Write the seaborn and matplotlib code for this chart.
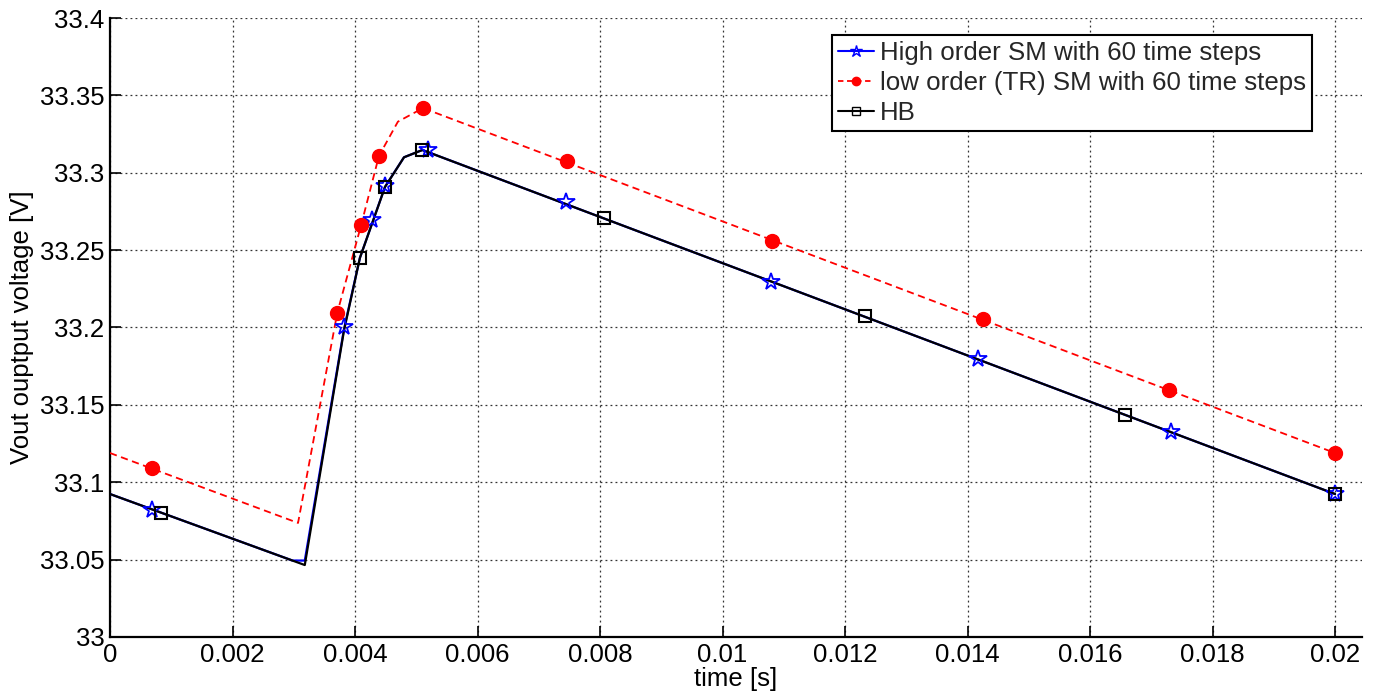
import numpy as np
import pandas as pd
import matplotlib
matplotlib.use("Agg")
import matplotlib.pyplot as plt
from matplotlib.lines import Line2D
import seaborn as sns

# ---- data ----
# line vertices
hi_t = [0.0, 0.00298, 0.00318, 0.00382, 0.00408, 0.00449, 0.00480, 0.00510, 0.02]
hi_v = [33.0924, 33.0494, 33.0494, 33.1990, 33.2450, 33.2910, 33.3100, 33.3147, 33.0924]
lo_t = [0.0, 0.00307, 0.00371, 0.00410, 0.00439, 0.00470, 0.00511, 0.02]
lo_v = [33.1189, 33.0737, 33.2094, 33.2662, 33.3108, 33.3330, 33.3418, 33.1189]
hb_t = [0.0, 0.00318, 0.00382, 0.00408, 0.00449, 0.00480, 0.00510, 0.02]
hb_v = [33.0924, 33.0465, 33.1980, 33.2450, 33.2908, 33.3100, 33.3147, 33.0924]

# marker positions
hi_mt = [0.00069, 0.00382, 0.00428, 0.00449, 0.00519, 0.00745, 0.01079, 0.01417, 0.01732, 0.02]
hi_mv = [33.0821, 33.2003, 33.2695, 33.2915, 33.3147, 33.2811, 33.2294, 33.1796, 33.1325, 33.0924]
lo_mt = [0.00069, 0.00371, 0.00410, 0.00439, 0.00511, 0.00746, 0.01081, 0.01425, 0.01729, 0.02]
lo_mv = [33.1092, 33.2094, 33.2662, 33.3108, 33.3418, 33.3076, 33.2559, 33.2055, 33.1596, 33.1189]
hb_mt = [0.00083, 0.00408, 0.00449, 0.00510, 0.00807, 0.01233, 0.01657, 0.02]
hb_mv = [33.0801, 33.2450, 33.2908, 33.3147, 33.2708, 33.2074, 33.1435, 33.0924]

labels = ["High order SM with 60 time steps",
          "low order (TR) SM with 60 time steps",
          "HB"]
xticks = [0, 0.002, 0.004, 0.006, 0.008, 0.01, 0.012, 0.014, 0.016, 0.018, 0.02]
xtick_labels = ["0", "0.002", "0.004", "0.006", "0.008", "0.01", "0.012",
                "0.014", "0.016", "0.018", "0.02"]
yticks = [33, 33.05, 33.1, 33.15, 33.2, 33.25, 33.3, 33.35, 33.4]
ytick_labels = ["33", "33.05", "33.1", "33.15", "33.2", "33.25", "33.3", "33.35", "33.4"]

sns.set_theme(style="white")
plt.rcParams['font.family'] = ['Liberation Sans', 'DejaVu Sans']

fig = plt.figure(figsize=(13.79, 6.98), dpi=100)
ax = fig.add_axes([110/1379, 1-637/698, (1362-110)/1379, (637-18)/698])

df_hi = pd.DataFrame({"t": hi_t, "v": hi_v})
df_lo = pd.DataFrame({"t": lo_t, "v": lo_v})
df_hb = pd.DataFrame({"t": hb_t, "v": hb_v})

sns.lineplot(data=df_hi, x="t", y="v", ax=ax, color="#0000ff", lw=1.6,
             sort=False, estimator=None, zorder=3)
sns.lineplot(data=df_lo, x="t", y="v", ax=ax, color="#ff0000", lw=1.3,
             sort=False, estimator=None, zorder=3, linestyle=(0, (4, 2.5)))
sns.lineplot(data=df_hb, x="t", y="v", ax=ax, color="black", lw=1.6,
             sort=False, estimator=None, zorder=4)

ax.plot(hi_mt, hi_mv, linestyle="none", marker="*", ms=13, mfc="none",
        mec="#0000ff", mew=1.3, zorder=5)
ax.plot(lo_mt, lo_mv, linestyle="none", marker="o", ms=10, mfc="#ff0000",
        mec="#ff0000", zorder=5)
ax.plot(hb_mt, hb_mv, linestyle="none", marker="s", ms=9, mfc="none",
        mec="black", mew=1.5, zorder=6)

ax.set_xlim(0, 0.02044)
ax.set_ylim(33, 33.4)
ax.set_xticks(xticks)
ax.set_xticklabels(xtick_labels)
ax.set_yticks(yticks)
ax.set_yticklabels(ytick_labels)
ax.tick_params(axis="both", direction="in", length=8, width=1.2, labelsize=18.5,
               color="black", labelcolor="black", bottom=True, left=True,
               top=False, right=False, pad=4)
ax.grid(True, linestyle=(0, (1.5, 2.5)), color="black", lw=0.9, alpha=0.8)
for s in ["top", "right"]:
    ax.spines[s].set_visible(False)
for s in ["left", "bottom"]:
    ax.spines[s].set_color("black")
    ax.spines[s].set_linewidth(1.6)

ax.set_xlabel("time [s]", fontsize=18.5, color="black", labelpad=0)
ax.set_ylabel("Vout ouptput voltage [V]", fontsize=18.5, color="black", labelpad=4)

handles = [
    Line2D([], [], color="#0000ff", lw=1.5, marker="*", ms=9, mfc="none", mec="#0000ff"),
    Line2D([], [], color="#ff0000", lw=1.3, linestyle=(0, (3, 2)), marker="o", ms=6,
           mfc="#ff0000", mec="#ff0000"),
    Line2D([], [], color="black", lw=1.5, marker="s", ms=6, mfc="none", mec="black"),
]
leg = ax.legend(handles, labels, loc="upper right",
                bbox_to_anchor=((1312-110)/1252, (637-35)/619),
                fontsize=18.6, frameon=True, fancybox=False, framealpha=1,
                edgecolor="black", handlelength=1.4, handletextpad=0.2,
                borderpad=0.25, labelspacing=0.22, borderaxespad=0)
leg.get_frame().set_linewidth(1.5)

fig.savefig("out.png", dpi=100)
